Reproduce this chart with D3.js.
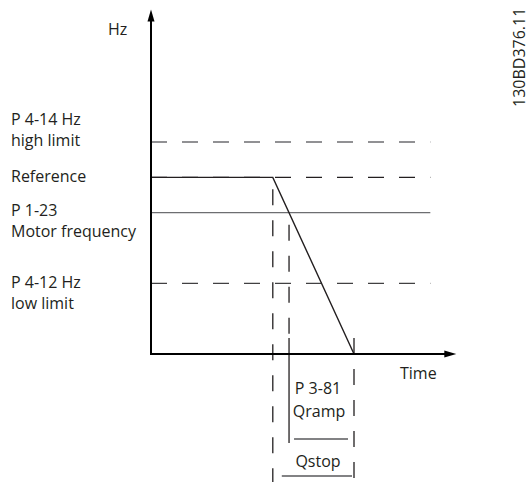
<!DOCTYPE html>
<html>
<head>
<meta charset="utf-8">
<script src="https://cdn.jsdelivr.net/npm/d3@7"></script>
<style>
  body { margin: 0; background: #fff; }
  svg text { font-family: "Open Sans", sans-serif; font-size: 16px; fill: #231f20; }
</style>
</head>
<body>
<svg class="ramp-svg" width="530" height="482"></svg>
<script>
// frequency levels (Hz) and their labels
var levels = [
    {"name": "high", "hz": 60, "lines": ["P 4-14 Hz", "high limit"], "style": "dash", "color": "#6d6e71"},
    {"name": "ref", "hz": 50, "lines": ["Reference"], "style": "dash", "color": "#231f20"},
    {"name": "motor", "hz": 40, "lines": ["P 1-23", "Motor frequency"], "style": "solid", "color": "#6d6e71"},
    {"name": "low", "hz": 20, "lines": ["P 4-12 Hz", "low limit"], "style": "dash", "color": "#414042"}
];

// label offsets relative to the level line (first text line baseline)
var labelDy = {"high": -17, "ref": 5, "motor": 3, "low": 5};

// time points (s)
var tRampStart = 15;   // reference removed, Qstop starts
var tMotor = 17;       // ramp crosses motor frequency
var tStop = 25;        // motor at 0 Hz
var tEnd = 34.4;       // end of level lines
var tAxisEnd = 37.6;   // x axis arrow tip
var hzAxisEnd = 97.5;  // y axis arrow tip

// ramp-down curve
var ramp = [
    {"t": 0, "hz": 50},
    {"t": tRampStart, "hz": 50},
    {"t": tStop, "hz": 0}
];

var x = d3.scaleLinear().domain([0, 25]).range([151, 354]);
var y = d3.scaleLinear().domain([0, 60]).range([354, 142]);

var svg = d3.select(".ramp-svg");
var dash = "16,15";

// level lines
svg.selectAll()
    .data(levels).enter()
    .append("line")
    .attr("x1", x(0)).attr("x2", x(tEnd))
    .attr("y1", function(d) { return y(d.hz) })
    .attr("y2", function(d) { return y(d.hz) })
    .attr("stroke", function(d) { return d.color })
    .attr("stroke-width", 1.4)
    .attr("stroke-dasharray", function(d) { return d.style == "dash" ? dash : null });

// ramp line
svg.append("path")
    .datum(ramp)
    .attr("fill", "none")
    .attr("stroke", "#231f20")
    .attr("stroke-width", 1.4)
    .attr("d", d3.line().x(function(d) { return x(d.t) }).y(function(d) { return y(d.hz) }));

// vertical markers (bottom is in pixels below the axis)
var marks = [
    {"t": tRampStart, "top": y(50) + 12, "bottom": 482, "solidFrom": null},
    {"t": tMotor, "top": y(40) + 12, "bottom": 443, "solidFrom": 338},
    {"t": tStop, "top": 338, "bottom": 482, "solidFrom": null}
];
marks.forEach(function(m) {
    var end = m.solidFrom == null ? m.bottom : m.solidFrom;
    svg.append("line")
        .attr("x1", x(m.t)).attr("x2", x(m.t))
        .attr("y1", m.top).attr("y2", end)
        .attr("stroke", "#231f20").attr("stroke-width", 1.3)
        .attr("stroke-dasharray", dash);
    if (m.solidFrom != null) {
        svg.append("line")
            .attr("x1", x(m.t)).attr("x2", x(m.t))
            .attr("y1", m.solidFrom).attr("y2", m.bottom)
            .attr("stroke", "#231f20").attr("stroke-width", 1.3);
    }
});

// axes with arrows
svg.append("line")
    .attr("x1", x(0)).attr("x2", x(0))
    .attr("y1", y(0) + 1).attr("y2", y(hzAxisEnd) + 8)
    .attr("stroke", "#000").attr("stroke-width", 2);
svg.append("line")
    .attr("x1", x(0) - 1).attr("x2", x(tAxisEnd) - 8)
    .attr("y1", y(0)).attr("y2", y(0))
    .attr("stroke", "#000").attr("stroke-width", 2);
var ax = x(0), ay = y(hzAxisEnd);
svg.append("path")
    .attr("d", "M" + ax + "," + ay + "L" + (ax + 3.5) + "," + (ay + 12) + "L" + (ax - 3.5) + "," + (ay + 12) + "Z")
    .attr("fill", "#000");
var bx = x(tAxisEnd), by = y(0);
svg.append("path")
    .attr("d", "M" + bx + "," + by + "L" + (bx - 12) + "," + (by - 3.5) + "L" + (bx - 12) + "," + (by + 3.5) + "Z")
    .attr("fill", "#000");

// level labels
levels.forEach(function(d) {
    var t = svg.append("text")
        .attr("x", 11)
        .attr("y", y(d.hz) + labelDy[d.name]);
    d.lines.forEach(function(s, i) {
        t.append("tspan").attr("x", 11).attr("dy", i == 0 ? 0 : 21).text(s);
    });
});

svg.append("text").attr("x", 108).attr("y", 35).text("Hz");
svg.append("text").attr("x", 400).attr("y", 379).text("Time");

// duration spans
svg.append("line")
    .attr("x1", x(tMotor) + 5).attr("x2", x(tStop) - 6)
    .attr("y1", 439).attr("y2", 439)
    .attr("stroke", "#58595b").attr("stroke-width", 1.3);
svg.append("line")
    .attr("x1", x(tRampStart) + 9).attr("x2", x(tStop) - 2)
    .attr("y1", 476).attr("y2", 476)
    .attr("stroke", "#58595b").attr("stroke-width", 1.3);

svg.append("text").attr("x", 318).attr("y", 394).attr("text-anchor", "middle").text("P 3-81");
svg.append("text").attr("x", 319).attr("y", 417).attr("text-anchor", "middle").text("Qramp");
svg.append("text").attr("x", 318).attr("y", 467).attr("text-anchor", "middle").text("Qstop");

// drawing number
svg.append("text")
    .attr("transform", "translate(525,107) rotate(-90)")
    .text("130BD376.11");
</script>
</body>
</html>
